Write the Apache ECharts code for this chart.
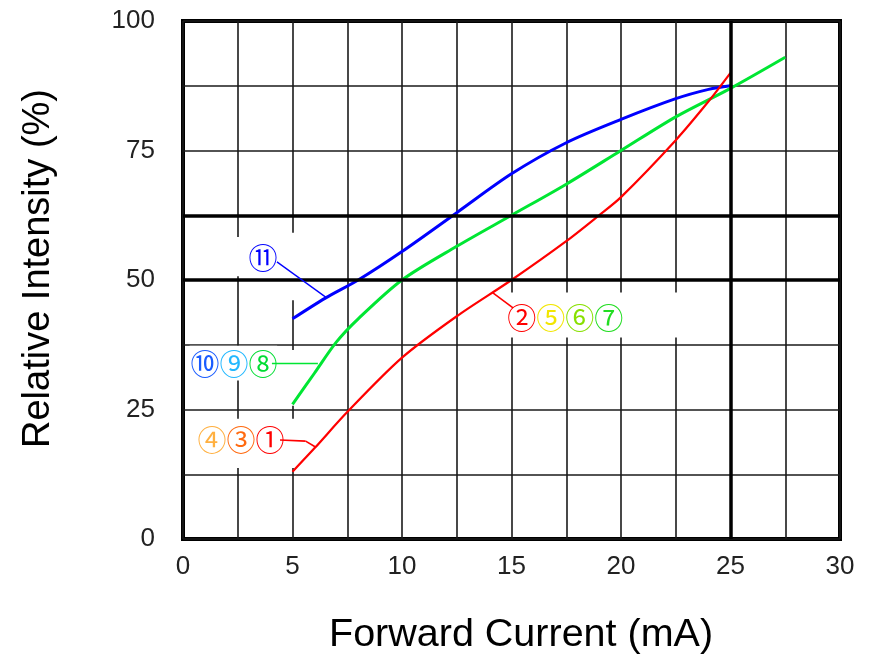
<!DOCTYPE html>
<html>
<head>
<meta charset="utf-8">
<script src="https://cdn.jsdelivr.net/npm/echarts@6/dist/echarts.min.js"></script>
<style>
html,body{margin:0;padding:0;background:#fff;}
#c{width:886px;height:666px;}
</style>
</head>
<body>
<div id="c"></div>
<script>
// ---- data ----
const xTicks = [0, 5, 10, 15, 20, 25, 30];
const yTicks = [0, 25, 50, 75, 100];

const blueX  = [5, 6.5, 8, 10, 12.5, 15, 17.5, 20, 22.5, 24, 25];
const blueY  = [42.5, 46.5, 50, 55.5, 63, 70.5, 76.5, 81, 85, 86.8, 87.5];

const greenX = [5, 6, 7, 8, 10, 12.5, 15, 17.5, 20, 22.5, 25, 27.5];
const greenY = [26, 32, 38, 42.5, 50, 56.5, 62.5, 68.5, 75, 81.5, 87, 93];

const redX   = [5, 6, 7.5, 10, 12.5, 15, 17.5, 19, 20, 22.5, 24, 25];
const redY   = [13, 17.5, 24.5, 35, 43, 50, 57.5, 62.5, 66, 77, 84.5, 90];

// heavy reference lines
const thickY = [62.5, 50];
const thickX = [25];

// annotation labels (circled codes) and their colours
const blueTag  = [['⑪', '#0000ff']];
const greenTag = [['⑩', '#1a5cff'], ['⑨', '#22b8ff'], ['⑧', '#00dd33']];
const redTagA  = [['④', '#ffb040'], ['③', '#ff6a10'], ['①', '#ff0000']];
const redTagB  = [['②', '#ff0000'], ['⑤', '#f2e600'], ['⑥', '#88e000'], ['⑦', '#22dd22']];

// annotation anchors [x, y] in data units
const blueTagAt  = [3.65, 54.2];
const greenTagAt = [2.33, 33.8];
const redTagAAt  = [2.65, 19.1];
const redTagBAt  = [17.45, 42.7];

const blueLead  = [[4.29, 53.5], [6.58, 46.5]];
const greenLead = [[4.06, 34.0], [6.16, 34.0]];
const redLeadA  = [[4.43, 19.1], [5.6, 18.9], [6.03, 17.8]];
const redLeadB  = [[14.15, 47.5], [15.07, 44.6]];

// white masks behind labels (data units)
const masks = [
  [[2.37, 50.7], [4.29, 58.3]],
  [[4.06, 46.1], [7.03, 59.1]],
  [[0.3, 30.6], [4.3, 37.3]],
  [[4.66, 25.7], [5.57, 36.5]],
  [[0.55, 13.7], [5.57, 23.2]],
  [[13.7, 38.9], [23.6, 47.6]]
];

const zip = (xs, ys) => xs.map((x, i) => [x, ys[i]]);

function tagLabel(tag) {
  const rich = {};
  let txt = '';
  tag.forEach((t, i) => {
    rich['t' + i] = {
      color: t[1],
      fontFamily: 'Noto Sans CJK JP',
      fontSize: 29,
      lineHeight: 32
    };
    txt += '{t' + i + '|' + t[0] + '}';
  });
  return { show: true, formatter: txt, rich: rich, position: 'inside' };
}

function tagPoint(tag, at) {
  return {
    coord: at,
    symbol: 'circle',
    symbolSize: 1,
    itemStyle: { color: 'rgba(0,0,0,0)' },
    label: tagLabel(tag)
  };
}

function polyLead(pts) {
  const segs = [];
  for (let i = 0; i < pts.length - 1; i++) {
    segs.push([{ coord: pts[i] }, { coord: pts[i + 1] }]);
  }
  return segs;
}

const chart = echarts.init(document.getElementById('c'), null, { renderer: 'canvas' });

const axisFont = { fontFamily: 'Liberation Sans', fontSize: 26, color: '#222' };

const option = {
  animation: false,
  backgroundColor: '#fff',
  grid: {
    left: 183, right: 46, top: 21, bottom: 127,
    show: true, borderColor: '#000', borderWidth: 4, backgroundColor: 'transparent'
  },
  xAxis: {
    type: 'value', min: 0, max: 30, interval: 2.5,
    axisLine: { show: false }, axisTick: { show: false },
    axisLabel: Object.assign({
      margin: 15,
      formatter: v => (xTicks.indexOf(v) >= 0 ? String(v) : '')
    }, axisFont),
    splitLine: { show: true, lineStyle: { color: '#1a1a1a', width: 1.6 } }
  },
  yAxis: {
    type: 'value', min: 0, max: 100, interval: 12.5,
    axisLine: { show: false }, axisTick: { show: false },
    axisLabel: Object.assign({
      margin: 28,
      formatter: v => (yTicks.indexOf(v) >= 0 ? String(v) : '')
    }, axisFont),
    splitLine: { show: true, lineStyle: { color: '#1a1a1a', width: 1.6 } }
  },
  graphic: [
    {
      type: 'text', left: 329, top: 615, z: 10,
      style: { text: 'Forward Current (mA)', font: '39.5px "Liberation Sans"', fill: '#000' }
    },
    {
      type: 'text', x: 20, y: 448, rotation: Math.PI / 2, z: 10,
      style: { text: 'Relative Intensity (%)', font: '38px "Liberation Sans"', fill: '#000' }
    }
  ],
  series: [
    {
      name: 'thick', type: 'line', data: [], z: 1,
      markLine: {
        silent: true, symbol: 'none', label: { show: false },
        lineStyle: { color: '#000', width: 3.5, type: 'solid' },
        data: thickY.map(v => ({ yAxis: v })).concat(thickX.map(v => ({ xAxis: v })))
      }
    },
    {
      name: 'mask', type: 'line', data: [], z: 1.5,
      markArea: {
        silent: true,
        itemStyle: { color: '#fff', borderWidth: 0 },
        data: masks.map(m => [{ coord: m[0] }, { coord: m[1] }])
      }
    },
    {
      name: 'blue', type: 'line', z: 3, smooth: 0.3, symbol: 'none',
      data: zip(blueX, blueY),
      lineStyle: { color: '#0000ff', width: 3 },
      markLine: {
        silent: true, symbol: 'none', label: { show: false },
        lineStyle: { color: '#0000ff', width: 1.3, type: 'solid' },
        data: polyLead(blueLead)
      },
      markPoint: { silent: true, data: [tagPoint(blueTag, blueTagAt)] }
    },
    {
      name: 'green', type: 'line', z: 3, smooth: 0.3, symbol: 'none',
      data: zip(greenX, greenY),
      lineStyle: { color: '#00e633', width: 3 },
      markLine: {
        silent: true, symbol: 'none', label: { show: false },
        lineStyle: { color: '#00e633', width: 1.3, type: 'solid' },
        data: polyLead(greenLead)
      },
      markPoint: { silent: true, data: [tagPoint(greenTag, greenTagAt)] }
    },
    {
      name: 'red', type: 'line', z: 3, smooth: 0.3, symbol: 'none',
      data: zip(redX, redY),
      lineStyle: { color: '#ff0000', width: 2.2 },
      markLine: {
        silent: true, symbol: 'none', label: { show: false },
        lineStyle: { color: '#ff0000', width: 1.6, type: 'solid' },
        data: polyLead(redLeadA).concat(polyLead(redLeadB))
      },
      markPoint: {
        silent: true,
        data: [tagPoint(redTagA, redTagAAt), tagPoint(redTagB, redTagBAt)]
      }
    }
  ]
};

chart.setOption(option);
</script>
</body>
</html>
